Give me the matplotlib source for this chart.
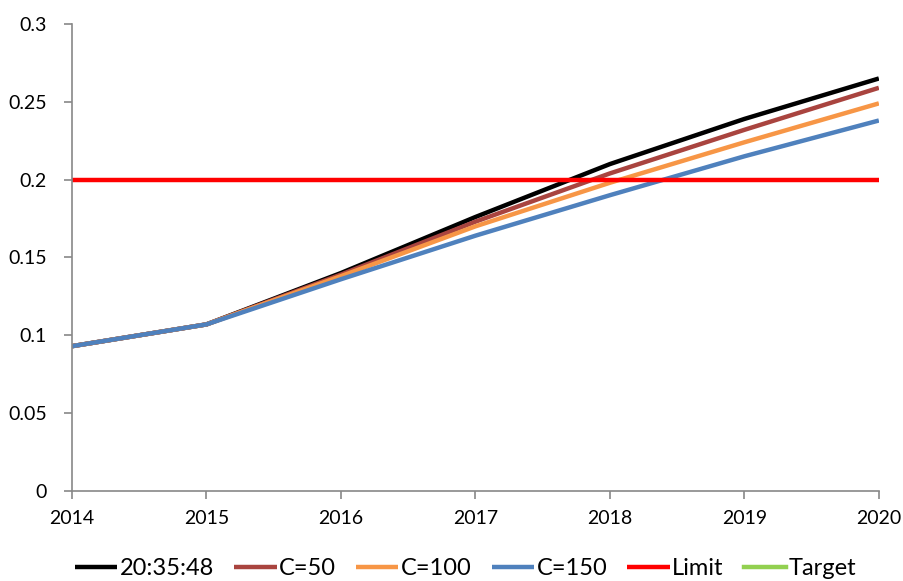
import matplotlib.pyplot as plt

plt.rcParams['font.family'] = ['Lato', 'DejaVu Sans']

# Yearly values per scenario
years = [2014, 2015, 2016, 2017, 2018, 2019, 2020]
base = [0.093, 0.107, 0.140, 0.176, 0.210, 0.239, 0.265]
c50 = [0.093, 0.107, 0.139, 0.173, 0.204, 0.232, 0.259]
c100 = [0.093, 0.107, 0.138, 0.170, 0.198, 0.224, 0.249]
c150 = [0.093, 0.107, 0.136, 0.164, 0.190, 0.215, 0.238]
limit = [0.2] * len(years)
target = []

labels = ['20:35:48', 'C=50', 'C=100', 'C=150', 'Limit', 'Target']
colors = ['#000000', '#A9443F', '#F79646', '#4F81BD', '#FF0000', '#92D050']

fig = plt.figure(figsize=(9.04, 5.81), dpi=100)
ax = fig.add_axes([0.0796, 0.155, 0.8926, 0.8037])

series = [base, c50, c100, c150, limit]
for vals, lab, col in zip(series, labels, colors):
    ax.plot(years, vals, color=col, lw=3.2, label=lab, solid_capstyle='butt')
ax.plot(target, target, color=colors[5], lw=3.2, label=labels[5])

ax.set_xlim(2014, 2020)
ax.set_ylim(0, 0.3)
ax.set_xticks(years)
ax.set_xticklabels([str(y) for y in years])
ax.set_yticks([0, 0.05, 0.1, 0.15, 0.2, 0.25, 0.3])
ax.set_yticklabels(['0', '0.05', '0.1', '0.15', '0.2', '0.25', '0.3'])

for s in ['top', 'right']:
    ax.spines[s].set_visible(False)
for s in ['left', 'bottom']:
    ax.spines[s].set_color('#888888')
    ax.spines[s].set_linewidth(1.2)
ax.tick_params(direction='out', length=6, width=1.2, color='#888888',
               labelsize=14)
ax.tick_params(axis='y', pad=12)
ax.tick_params(axis='x', pad=8)

fig.legend(loc='lower center', bbox_to_anchor=(0.515, -0.033), ncol=6,
           frameon=False, handlelength=1.8, handletextpad=0.1,
           columnspacing=0.85, fontsize=17)

fig.savefig('out.png', dpi=100)
